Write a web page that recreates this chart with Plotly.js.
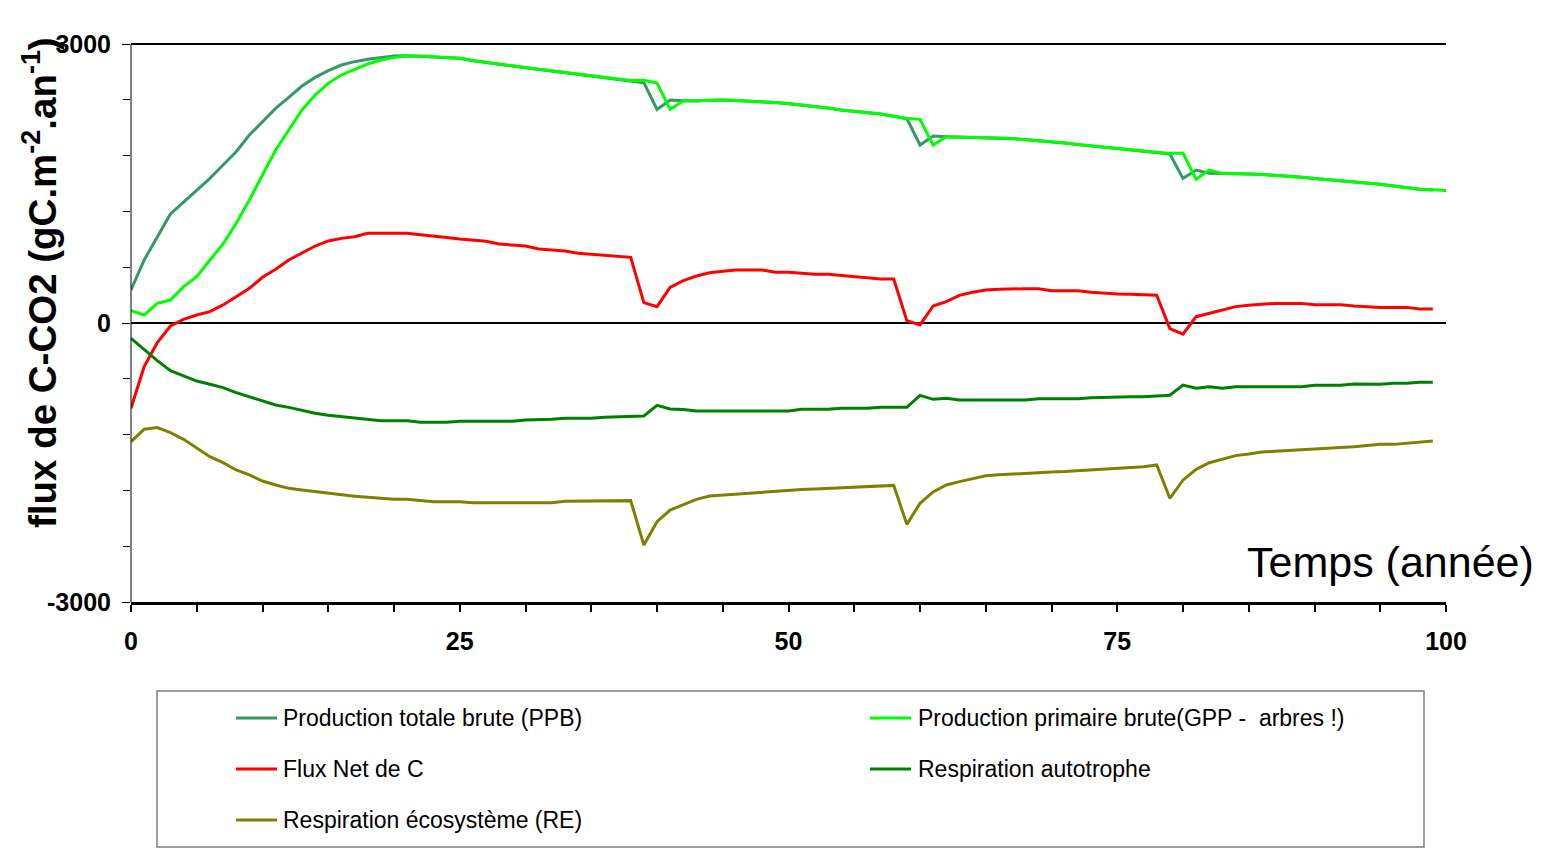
<!DOCTYPE html>
<html>
<head>
<meta charset="utf-8">
<script src="https://cdn.plot.ly/plotly-3.0.1.min.js"></script>
<style>html,body{margin:0;padding:0;background:#fff;}#chart{width:1553px;height:849px;}</style>
</head>
<body>
<div id="chart"></div>
<script>
// ---- data (annual time steps) ----
const years = [0,1,2,3,4,5,6,7,8,9,10,11,12,13,14,15,16,17,18,19,20,21,22,23,24,25,26,27,28,29,30,31,32,33,34,35,36,37,38,39,40,41,42,43,44,45,46,47,48,49,50,51,52,53,54,55,56,57,58,59,60,61,62,63,64,65,66,67,68,69,70,71,72,73,74,75,76,77,78,79,80,81,82,83,84,85,86,87,88,89,90,91,92,93,94,95,96,97,98,99];
const yearsGPP = years.concat([100]);

const ppb = [355,677,925,1172,1300,1430,1555,1699,1842,2021,2165,2308,2426,2548,2641,2713,2774,2810,2835,2856,2871,2875,2871,2860,2852,2846,2820,2799,2780,2763,2745,2727,2710,2692,2674,2656,2638,2620,2602,2584,2297,2398,2390,2387,2395,2398,2392,2386,2380,2370,2358,2345,2333,2312,2290,2275,2262,2247,2222,2197,1914,2011,2003,2000,1996,1993,1988,1982,1972,1961,1950,1935,1918,1903,1890,1878,1860,1848,1835,1818,1555,1645,1609,1609,1608,1603,1597,1590,1580,1568,1555,1543,1530,1520,1509,1491,1473,1455,1437,1430];

const gpp = [133,86,211,247,391,498,677,849,1072,1322,1591,1860,2075,2290,2451,2577,2667,2727,2785,2828,2856,2871,2871,2862,2852,2846,2822,2801,2782,2765,2747,2729,2712,2694,2676,2658,2640,2624,2608,2610,2580,2297,2390,2389,2396,2399,2393,2387,2381,2371,2359,2346,2334,2313,2291,2276,2263,2248,2224,2200,2190,1914,2003,2001,1997,1994,1989,1983,1973,1962,1951,1936,1919,1904,1891,1879,1861,1849,1836,1824,1824,1545,1645,1609,1608,1603,1597,1590,1580,1568,1555,1543,1530,1520,1509,1491,1473,1455,1437,1432,1425];

const fluxNet = [-917,-470,-211,-32,39,86,122,194,283,373,491,577,677,749,828,882,910,928,964,964,964,964,950,939,920,903,890,878,849,838,828,796,785,774,749,740,731,718,706,219,176,383,455,505,541,556,570,570,570,545,545,534,523,523,510,498,486,473,473,25,-21,183,229,297,330,355,362,369,369,369,348,348,348,330,319,313,308,305,298,-60,-120,68,104,147,176,190,200,211,211,211,197,197,197,183,175,168,168,168,151,151];

const respAuto = [-165,-290,-405,-513,-570,-624,-659,-695,-749,-792,-835,-882,-907,-943,-971,-993,-1007,-1025,-1043,-1050,-1050,-1050,-1068,-1068,-1068,-1057,-1057,-1057,-1057,-1057,-1043,-1040,-1036,-1025,-1025,-1025,-1014,-1007,-1000,-1000,-885,-925,-930,-946,-946,-946,-946,-946,-946,-946,-946,-928,-928,-928,-917,-917,-917,-907,-907,-907,-778,-821,-810,-828,-828,-828,-828,-828,-828,-814,-814,-814,-814,-803,-797,-792,-792,-792,-780,-776,-668,-702,-685,-702,-685,-685,-685,-685,-685,-685,-670,-670,-670,-656,-657,-659,-649,-649,-638,-638];

const respEco = [-1276,-1143,-1125,-1179,-1251,-1340,-1437,-1502,-1580,-1634,-1699,-1742,-1778,-1796,-1814,-1824,-1849,-1862,-1874,-1885,-1896,-1896,-1908,-1921,-1921,-1921,-1932,-1932,-1932,-1932,-1932,-1932,-1932,-1917,-1917,-1917,-1917,-1910,-1910,-2387,-2136,-2011,-1950,-1896,-1860,-1850,-1839,-1826,-1814,-1805,-1796,-1790,-1785,-1778,-1771,-1765,-1760,-1753,-1746,-2165,-1939,-1817,-1742,-1706,-1670,-1642,-1633,-1624,-1616,-1609,-1603,-1598,-1589,-1580,-1571,-1563,-1548,-1545,-1527,-1885,-1690,-1573,-1502,-1462,-1426,-1409,-1387,-1380,-1373,-1365,-1356,-1348,-1339,-1330,-1318,-1305,-1305,-1294,-1283,-1269];

const seriesNames = ["Production totale brute (PPB)","Production primaire brute(GPP -  arbres !)","Flux Net de C","Respiration autotrophe","Respiration écosystème (RE)"];
const seriesColors = ["#339966","#00FF00","#FF0000","#008000","#808000"];
const xTickVals = [0,25,50,75,100];
const xTickText = ["0","25","50","75","100"];
const yTickVals = [-3000,0,3000];
const yTickText = ["-3000","0","3000"];
const xTitle = "Temps (année)";
const yTitle = "flux de C-CO2 (gC.m<sup>-2</sup>.an<sup>-1</sup>)";

// ---- layout helpers ----
const W = 1553, H = 849;
// plot frame: value 3000 sits at y=44, -3000 at y=602; frame top kept 2px higher
// so that the 3000 grid line (Excel's top line) is not clipped by plotly.
const PL = 131, PR = 1446, PT = 42, PB = 602;
const YMIN = -3000, YMAX = 3000 + (44 - PT) * 6000 / (602 - 44);
const px = v => (v - PL) / (PR - PL);
const py = v => (PB - v) / (PB - PT);
const FONT = "Liberation Sans, Arial, sans-serif";

const xs = [years, yearsGPP, years, years, years];
const ys = [ppb, gpp, fluxNet, respAuto, respEco];
const traces = seriesNames.map((n, i) => ({
  type: "scatter", mode: "lines", name: n,
  x: xs[i], y: ys[i],
  line: {color: seriesColors[i], width: 3},
  showlegend: false, hoverinfo: "x+y+name"
}));

// manual legend (Excel-like two-column box)
const legCols = [{lx0: 236, lx1: 277, tx: 281}, {lx0: 870, lx1: 911, tx: 916}];
const legRows = [718, 769, 820];
const shapes = [{
  type: "rect", xref: "paper", yref: "paper",
  x0: px(157), x1: px(1424), y0: py(847), y1: py(691),
  line: {color: "#7f7f7f", width: 1.5}, fillcolor: "rgba(0,0,0,0)"
}];
const annotations = [];
seriesNames.forEach((n, i) => {
  const c = legCols[i % 2], r = legRows[Math.floor(i / 2)];
  shapes.push({type: "line", xref: "paper", yref: "paper",
    x0: px(c.lx0), x1: px(c.lx1), y0: py(r), y1: py(r),
    line: {color: seriesColors[i], width: 3}});
  annotations.push({xref: "paper", yref: "paper", x: px(c.tx), y: py(r),
    xanchor: "left", yanchor: "middle", showarrow: false, text: n,
    font: {family: FONT, size: 23, color: "#000"}});
});
annotations.push({xref: "paper", yref: "paper", x: px(1390), y: py(562),
  xanchor: "center", yanchor: "middle", showarrow: false, text: xTitle,
  font: {family: FONT, size: 43, color: "#000"}});
annotations.push({xref: "paper", yref: "paper", x: px(40), y: py(283),
  xanchor: "center", yanchor: "middle", showarrow: false, text: yTitle, textangle: -90,
  font: {family: FONT, size: 38.5, color: "#000", weight: "bold"}});

const layout = {
  width: W, height: H,
  margin: {l: PL, r: W - PR, t: PT, b: H - PB, pad: 0},
  paper_bgcolor: "#fff", plot_bgcolor: "#fff",
  showlegend: false,
  xaxis: {
    range: [0, 100], tickmode: "array", tickvals: xTickVals, ticktext: xTickText,
    ticks: "outside", ticklen: 7, tickwidth: 2, tickcolor: "#000",
    minor: {tickmode: "linear", tick0: 0, dtick: 5, ticks: "outside", ticklen: 7, tickwidth: 2, tickcolor: "#000", showgrid: false},
    showline: true, linecolor: "#000", linewidth: 3,
    showgrid: false, zeroline: false,
    tickfont: {family: FONT, size: 25, color: "#000", weight: "bold"},
    ticklabelstandoff: 8, fixedrange: true
  },
  yaxis: {
    range: [YMIN, YMAX], tickmode: "array", tickvals: yTickVals, ticktext: yTickText,
    ticks: "outside", ticklen: 8, tickwidth: 1, tickcolor: "#000",
    minor: {tickmode: "linear", tick0: -3000, dtick: 600, ticks: "outside", ticklen: 7, tickwidth: 1, tickcolor: "#000", showgrid: false},
    showline: false, linecolor: "#000", linewidth: 1,
    showgrid: true, gridcolor: "#000", gridwidth: 1.5,
    zeroline: true, zerolinecolor: "#000", zerolinewidth: 2,
    tickfont: {family: FONT, size: 25, color: "#000", weight: "bold"},
    ticklabelstandoff: 6, fixedrange: true
  },
  shapes: shapes.concat([{
    // y axis line drawn only over the -3000..3000 span (Excel's axis stops at 3000)
    type: "line", xref: "paper", yref: "y", x0: 0, x1: 0, y0: YMIN, y1: 3000,
    line: {color: "#000", width: 1}
  }]),
  annotations: annotations
};

Plotly.newPlot("chart", traces, layout, {displayModeBar: false});
</script>
</body>
</html>
